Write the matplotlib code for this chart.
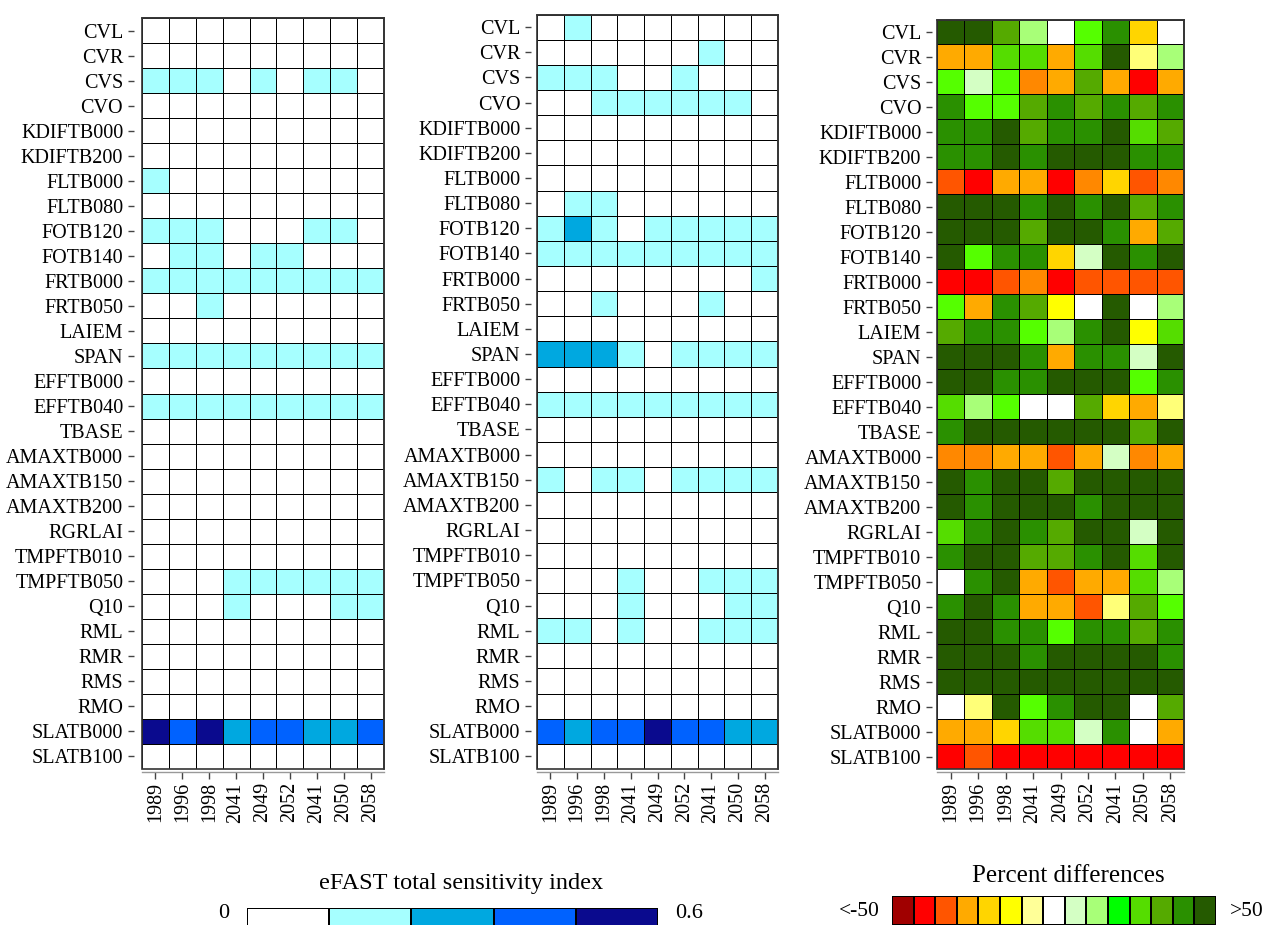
import numpy as np
import matplotlib
matplotlib.use("Agg")
import matplotlib.pyplot as plt
from matplotlib.colors import ListedColormap, BoundaryNorm

plt.rcParams['font.family'] = ['Liberation Serif', 'DejaVu Serif']

parameters = ["CVL", "CVR", "CVS", "CVO", "KDIFTB000", "KDIFTB200", "FLTB000", "FLTB080",
              "FOTB120", "FOTB140", "FRTB000", "FRTB050", "LAIEM", "SPAN", "EFFTB000",
              "EFFTB040", "TBASE", "AMAXTB000", "AMAXTB150", "AMAXTB200", "RGRLAI",
              "TMPFTB010", "TMPFTB050", "Q10", "RML", "RMR", "RMS", "RMO", "SLATB000", "SLATB100"]
years = ["1989", "1996", "1998", "2041", "2049", "2052", "2041", "2050", "2058"]

# eFAST total sensitivity index class (0: 0-0.12, 1: 0.12-0.24, 2: 0.24-0.36, 3: 0.36-0.48, 4: 0.48-0.6)
efast_a = [
    [0, 0, 0, 0, 0, 0, 0, 0, 0],
    [0, 0, 0, 0, 0, 0, 0, 0, 0],
    [1, 1, 1, 0, 1, 0, 1, 1, 0],
    [0, 0, 0, 0, 0, 0, 0, 0, 0],
    [0, 0, 0, 0, 0, 0, 0, 0, 0],
    [0, 0, 0, 0, 0, 0, 0, 0, 0],
    [1, 0, 0, 0, 0, 0, 0, 0, 0],
    [0, 0, 0, 0, 0, 0, 0, 0, 0],
    [1, 1, 1, 0, 0, 0, 1, 1, 0],
    [0, 1, 1, 0, 1, 1, 0, 0, 0],
    [1, 1, 1, 1, 1, 1, 1, 1, 1],
    [0, 0, 1, 0, 0, 0, 0, 0, 0],
    [0, 0, 0, 0, 0, 0, 0, 0, 0],
    [1, 1, 1, 1, 1, 1, 1, 1, 1],
    [0, 0, 0, 0, 0, 0, 0, 0, 0],
    [1, 1, 1, 1, 1, 1, 1, 1, 1],
    [0, 0, 0, 0, 0, 0, 0, 0, 0],
    [0, 0, 0, 0, 0, 0, 0, 0, 0],
    [0, 0, 0, 0, 0, 0, 0, 0, 0],
    [0, 0, 0, 0, 0, 0, 0, 0, 0],
    [0, 0, 0, 0, 0, 0, 0, 0, 0],
    [0, 0, 0, 0, 0, 0, 0, 0, 0],
    [0, 0, 0, 1, 1, 1, 1, 1, 1],
    [0, 0, 0, 1, 0, 0, 0, 1, 1],
    [0, 0, 0, 0, 0, 0, 0, 0, 0],
    [0, 0, 0, 0, 0, 0, 0, 0, 0],
    [0, 0, 0, 0, 0, 0, 0, 0, 0],
    [0, 0, 0, 0, 0, 0, 0, 0, 0],
    [4, 3, 4, 2, 3, 3, 2, 2, 3],
    [0, 0, 0, 0, 0, 0, 0, 0, 0],
]

efast_b = [
    [0, 1, 0, 0, 0, 0, 0, 0, 0],
    [0, 0, 0, 0, 0, 0, 1, 0, 0],
    [1, 1, 1, 0, 0, 1, 0, 0, 0],
    [0, 0, 1, 1, 1, 1, 1, 1, 0],
    [0, 0, 0, 0, 0, 0, 0, 0, 0],
    [0, 0, 0, 0, 0, 0, 0, 0, 0],
    [0, 0, 0, 0, 0, 0, 0, 0, 0],
    [0, 1, 1, 0, 0, 0, 0, 0, 0],
    [1, 2, 1, 0, 1, 1, 1, 1, 1],
    [1, 1, 1, 1, 1, 1, 1, 1, 1],
    [0, 0, 0, 0, 0, 0, 0, 0, 1],
    [0, 0, 1, 0, 0, 0, 1, 0, 0],
    [0, 0, 0, 0, 0, 0, 0, 0, 0],
    [2, 2, 2, 1, 0, 1, 1, 1, 1],
    [0, 0, 0, 0, 0, 0, 0, 0, 0],
    [1, 1, 1, 1, 1, 1, 1, 1, 1],
    [0, 0, 0, 0, 0, 0, 0, 0, 0],
    [0, 0, 0, 0, 0, 0, 0, 0, 0],
    [1, 0, 1, 1, 0, 1, 1, 1, 1],
    [0, 0, 0, 0, 0, 0, 0, 0, 0],
    [0, 0, 0, 0, 0, 0, 0, 0, 0],
    [0, 0, 0, 0, 0, 0, 0, 0, 0],
    [0, 0, 0, 1, 0, 0, 1, 1, 1],
    [0, 0, 0, 1, 0, 0, 0, 1, 1],
    [1, 1, 0, 1, 0, 0, 1, 1, 1],
    [0, 0, 0, 0, 0, 0, 0, 0, 0],
    [0, 0, 0, 0, 0, 0, 0, 0, 0],
    [0, 0, 0, 0, 0, 0, 0, 0, 0],
    [3, 2, 3, 3, 4, 3, 3, 2, 2],
    [0, 0, 0, 0, 0, 0, 0, 0, 0],
]

# Percent difference class (-8: <-50 ... 0: ~0 ... 7: >50)
pct_diff = [
    [7, 7, 5, 2, 0, 3, 6, -3, 0],
    [-4, -4, 4, 4, -4, 4, 7, -1, 2],
    [3, 1, 3, -5, -4, 5, -4, -7, -4],
    [6, 3, 3, 5, 6, 5, 6, 5, 6],
    [6, 6, 7, 5, 6, 6, 7, 4, 5],
    [6, 6, 7, 6, 7, 7, 7, 6, 6],
    [-6, -7, -4, -4, -7, -5, -3, -6, -5],
    [7, 7, 7, 6, 7, 6, 7, 5, 6],
    [7, 7, 7, 5, 7, 7, 6, -4, 5],
    [7, 3, 6, 6, -3, 1, 7, 6, 7],
    [-7, -7, -6, -5, -7, -6, -6, -6, -6],
    [3, -4, 6, 5, -2, 0, 7, 0, 2],
    [5, 6, 6, 3, 2, 6, 7, -2, 4],
    [7, 7, 7, 6, -4, 6, 6, 1, 7],
    [7, 7, 6, 6, 7, 7, 7, 3, 6],
    [4, 2, 3, 0, 0, 5, -3, -4, -1],
    [6, 7, 7, 7, 7, 7, 7, 5, 7],
    [-5, -5, -4, -4, -6, -4, 1, -5, -4],
    [7, 6, 7, 7, 5, 7, 7, 7, 7],
    [7, 6, 7, 7, 7, 6, 7, 7, 7],
    [4, 6, 7, 6, 5, 7, 7, 1, 7],
    [6, 7, 7, 5, 5, 6, 7, 4, 7],
    [0, 6, 7, -4, -6, -4, -4, 4, 2],
    [6, 7, 6, -4, -4, -6, -1, 5, 3],
    [7, 7, 6, 6, 3, 6, 6, 5, 6],
    [7, 7, 7, 6, 7, 7, 7, 7, 6],
    [7, 7, 7, 7, 7, 7, 7, 7, 7],
    [0, -1, 7, 3, 6, 7, 7, 0, 5],
    [-4, -4, -3, 4, 4, 1, 6, 0, -4],
    [-7, -6, -7, -7, -7, -7, -7, -7, -7],
]

efast_colors = ["#FFFFFF", "#A6FFFF", "#00A8E0", "#0062FF", "#0A0A8E"]
pct_colors = ["#A00000", "#FF0000", "#FF5500", "#FF8800", "#FFAA00", "#FFD500", "#FFFF00",
              "#FFFF78", "#FFFFFF", "#D4FFC4", "#A8FF78", "#55FF00", "#55DD00", "#55AA00",
              "#2A9000", "#255A00"]
pct_legend_colors = ["#A00000", "#FF0000", "#FF5500", "#FFAA00", "#FFD500", "#FFFF00",
                     "#FFFF98", "#FFFFFF", "#D4FFC4", "#A8FF78", "#00FF00", "#55DD00",
                     "#55AA00", "#2A9000", "#255A00"]

W, H = 1267, 925
fig = plt.figure(figsize=(W / 100, H / 100), dpi=100)


def px_axes(left, top, right, bottom):
    return fig.add_axes([left / W, 1 - bottom / H, (right - left) / W, (bottom - top) / H])


efast_cmap = ListedColormap(efast_colors)
efast_norm = BoundaryNorm(np.arange(-0.5, 5.5, 1), efast_cmap.N)
pct_cmap = ListedColormap(pct_colors)
pct_norm = BoundaryNorm(np.arange(-8.5, 8.5, 1), pct_cmap.N)

panels = [
    (np.array(efast_a), efast_cmap, efast_norm, (142, 18, 384, 769), 6),
    (np.array(efast_b), efast_cmap, efast_norm, (537, 14.5, 778, 769), 4.5),
    (np.array(pct_diff), pct_cmap, pct_norm, (937, 19.5, 1184, 769), 3.8),
]

nrow = len(parameters)
ncol = len(years)
for data, cmap, norm, box, yoff in panels:
    ax = px_axes(*box)
    ax.pcolormesh(np.arange(ncol + 1), np.arange(nrow + 1), data, cmap=cmap, norm=norm,
                  edgecolors="black", linewidth=0.7)
    ax.set_xlim(0, ncol)
    ax.set_ylim(nrow, 0)
    for s in ["top", "right"]:
        ax.spines[s].set_linewidth(1.2)
        ax.spines[s].set_color("#333333")
    ax.spines["left"].set_position(("outward", yoff))
    ax.spines["left"].set_visible(False)
    ax.spines["bottom"].set_position(("outward", 2))
    ax.spines["bottom"].set_color("#999999")
    ax.spines["bottom"].set_linewidth(1.0)
    ax.set_yticks(np.arange(nrow) + 0.5)
    ax.set_yticklabels(parameters, fontsize=14.5)
    ax.set_xticks(np.arange(ncol) + 0.5)
    ax.set_xticklabels(years, fontsize=14.5, rotation=90)
    ax.tick_params(axis="y", length=4.5, width=1, color="#444444", pad=3, labelsize=14.5)
    ax.tick_params(axis="x", length=5, width=1, color="#444444", pad=2.5, labelsize=14.5,
                   labelrotation=90)
    ax.add_patch(plt.Rectangle((0, 0), ncol, nrow, fill=False, edgecolor="#333333",
                               linewidth=1.2, zorder=5, clip_on=False))

# eFAST legend
cax1 = px_axes(247, 908, 658, 934)
cax1.pcolormesh(np.arange(len(efast_colors) + 1), [0, 1],
                np.arange(len(efast_colors))[None, :], cmap=efast_cmap, norm=efast_norm,
                edgecolors="black", linewidth=1.2)
cax1.set_xlim(0, len(efast_colors))
cax1.set_ylim(0, 1)
cax1.axis("off")
fig.text(461 / W, 1 - 884 / H, "eFAST total sensitivity index", fontsize=17.5,
         ha="center", va="center")
fig.text(224 / W, 1 - 914 / H, "0", fontsize=16, ha="center", va="center")
fig.text(689 / W, 1 - 914 / H, "0.6", fontsize=16, ha="center", va="center")

# Percent differences legend
leg_cmap = ListedColormap(pct_legend_colors)
cax2 = px_axes(892, 896, 1216, 925)
cax2.pcolormesh(np.arange(len(pct_legend_colors) + 1), [0, 1],
                np.arange(len(pct_legend_colors))[None, :], cmap=leg_cmap,
                edgecolors="black", linewidth=1.2)
cax2.set_xlim(0, len(pct_legend_colors))
cax2.set_ylim(0, 1)
cax2.axis("off")
fig.text(1068 / W, 1 - 876 / H, "Percent differences", fontsize=18, ha="center", va="center")
fig.text(859 / W, 1 - 912 / H, "<-50", fontsize=15.5, ha="center", va="center")
fig.text(1247 / W, 1 - 912 / H, ">50", fontsize=15.5, ha="center", va="center")

fig.savefig("out.png", dpi=100)
